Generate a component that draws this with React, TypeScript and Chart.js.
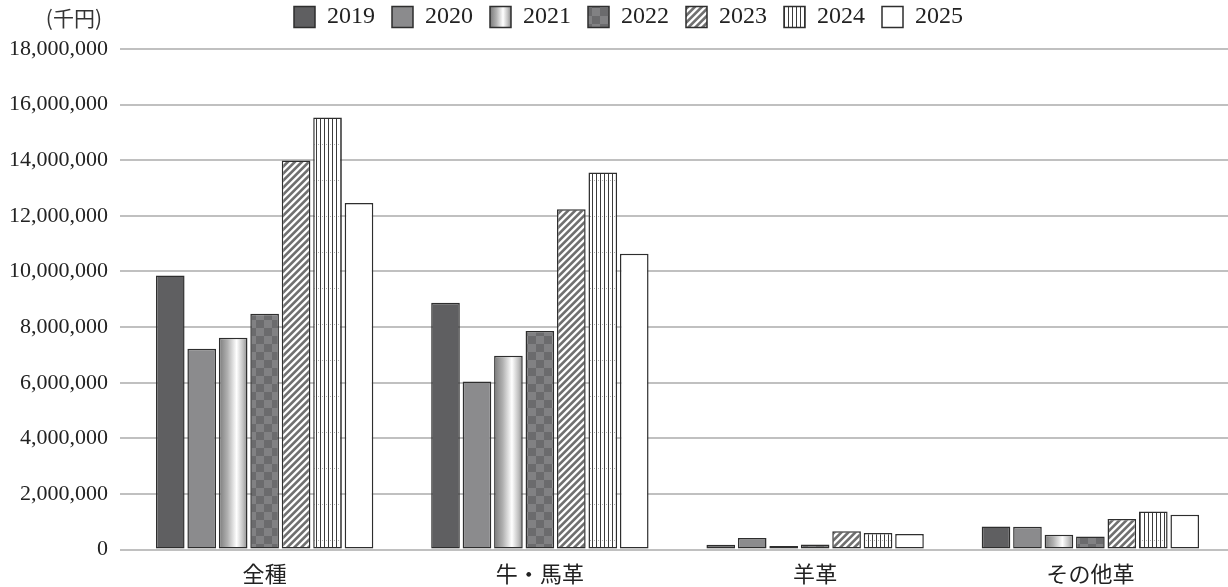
import React, { useEffect, useRef } from 'react';
import { Chart, registerables } from 'chart.js';

Chart.register(...registerables);

// ---- data ----
const categories = ['全種', '牛・馬革', '羊革', 'その他革'];
const years = ['2019', '2020', '2021', '2022', '2023', '2024', '2025'];
const v2019 = [9860000, 8880000, 170000, 830000];
const v2020 = [7220000, 6040000, 420000, 820000];
const v2021 = [7620000, 6970000, 130000, 530000];
const v2022 = [8480000, 7860000, 180000, 470000];
const v2023 = [13990000, 12240000, 660000, 1100000];
const v2024 = [15540000, 13560000, 600000, 1370000];
const v2025 = [12460000, 10640000, 560000, 1250000];
const seriesValues = [v2019, v2020, v2021, v2022, v2023, v2024, v2025];
const yMin = 0;
const yMax = 18000000;
const yStep = 2000000;
const unitLabel = '(千円)';

const BORDER = '#2e2e2e';
const LEGEND_DX = 16;
const LEGEND_DY = -10;

function makeTile(w: number, h: number, draw: (g: CanvasRenderingContext2D) => void) {
  const c = document.createElement('canvas');
  c.width = w;
  c.height = h;
  const g = c.getContext('2d')!;
  draw(g);
  return c;
}

function diagTile(P: number, frac: number) {
  return makeTile(P, P, (g) => {
    const img = g.createImageData(P, P);
    const S = 4;
    for (let y = 0; y < P; y++) {
      for (let x = 0; x < P; x++) {
        let cov = 0;
        for (let sy = 0; sy < S; sy++) {
          for (let sx = 0; sx < S; sx++) {
            const d = ((x + (sx + 0.5) / S + y + (sy + 0.5) / S) % P) / P;
            if (d < frac) cov++;
          }
        }
        const t = cov / (S * S);
        const gray = 112;
        const v = Math.round(255 * (1 - t) + gray * t);
        const i = (y * P + x) * 4;
        img.data[i] = v;
        img.data[i + 1] = v;
        img.data[i + 2] = v;
        img.data[i + 3] = 255;
      }
    }
    g.putImageData(img, 0, 0);
  });
}

function addGradStops(gr: CanvasGradient) {
  gr.addColorStop(0, '#7a7a7a');
  gr.addColorStop(0.3, '#b0b0b0');
  gr.addColorStop(0.62, '#ffffff');
  gr.addColorStop(0.85, '#c0c0c0');
  gr.addColorStop(1, '#8a8a8a');
}

export default function App() {
  const ref = useRef<HTMLCanvasElement>(null);

  useEffect(() => {
    document.body.style.margin = '0';
    const canvas = ref.current!;
    const ctx = canvas.getContext('2d')!;

    const checker = ctx.createPattern(
      makeTile(16, 16, (g) => {
        g.fillStyle = '#818183';
        g.fillRect(0, 0, 16, 16);
        g.fillStyle = '#6b6b6d';
        g.fillRect(0, 0, 8, 8);
        g.fillRect(8, 8, 8, 8);
      }),
      'repeat'
    )!;
    const diag = ctx.createPattern(diagTile(7, 0.52), 'repeat')!;
    const vert = ctx.createPattern(
      makeTile(4, 36, (g) => {
        g.fillStyle = '#ffffff';
        g.fillRect(0, 0, 4, 36);
        g.fillStyle = '#3c3c3c';
        g.fillRect(0, 0, 1, 36);
        g.fillStyle = '#b0b0b0';
        g.fillRect(2, 0, 1, 1);
      }),
      'repeat'
    )!;

    const fills: any[] = ['#5f5f61', '#8b8b8d', '#c8c8c8', checker, diag, vert, '#ffffff'];

    const datasets = years.map((y, i) => ({
      label: y,
      data: seriesValues[i],
      backgroundColor: fills[i],
      borderColor: BORDER,
      borderWidth: 1.5,
      borderSkipped: false as const,
      categoryPercentage: 0.8,
      barPercentage: 0.91,
    }));

    const custom = {
      id: 'custom',
      afterLayout(chart: any) {
        const lg = chart.legend;
        if (lg) {
          lg.left += LEGEND_DX;
          lg.right += LEGEND_DX;
          lg.top += LEGEND_DY;
          lg.bottom += LEGEND_DY;
        }
      },
      beforeDraw(chart: any) {
        const lg = chart.legend;
        if (lg && lg.legendItems && lg.legendHitBoxes && lg.legendHitBoxes[2]) {
          const hb = lg.legendHitBoxes[2];
          const bw = lg.options.labels.boxWidth;
          const gr = chart.ctx.createLinearGradient(hb.left, 0, hb.left + bw, 0);
          addGradStops(gr);
          lg.legendItems[2].fillStyle = gr;
        }
      },
      beforeDatasetsDraw(chart: any) {
        const meta = chart.getDatasetMeta(2);
        meta.data.forEach((el: any) => {
          const l = el.x - el.width / 2;
          const gr = chart.ctx.createLinearGradient(l, 0, l + el.width, 0);
          addGradStops(gr);
          el.options = Object.assign({}, el.options, { backgroundColor: gr });
        });
      },
      afterDraw(chart: any) {
        const c = chart.ctx;
        c.save();
        c.font = '21px "Noto Sans CJK JP", "Liberation Serif"';
        c.fillStyle = '#333333';
        c.textAlign = 'right';
        c.textBaseline = 'middle';
        c.fillText(unitLabel, chart.chartArea.left - 25, 18);
        c.restore();
      },
    };

    const chart = new Chart(canvas, {
      type: 'bar',
      data: { labels: categories, datasets },
      options: {
        animation: false,
        responsive: false,
        devicePixelRatio: 1,
        layout: { padding: { left: -3, right: 0, top: -2, bottom: -11 } },
        plugins: {
          legend: {
            position: 'top',
            align: 'center',
            labels: {
              boxWidth: 21,
              boxHeight: 21,
              padding: 17,
              color: '#222222',
              font: { family: '"Liberation Serif", serif', size: 24 },
            },
          },
          tooltip: { enabled: false },
          title: { display: false },
        },
        scales: {
          x: {
            grid: { display: false, drawTicks: false },
            border: { display: false },
            ticks: {
              color: '#222222',
              padding: 11,
              font: { family: '"Noto Sans CJK JP", sans-serif', size: 22 },
            },
          },
          y: {
            min: yMin,
            max: yMax,
            border: { display: false },
            grid: { color: '#c0c0c0', lineWidth: 2, drawTicks: true, tickLength: 7 },
            ticks: {
              stepSize: yStep,
              color: '#222222',
              padding: 12,
              font: { family: '"Liberation Serif", serif', size: 22 },
              callback: (v: any) => Number(v).toLocaleString('en-US'),
            },
          },
        },
      },
      plugins: [custom],
    });

    return () => chart.destroy();
  }, []);

  return (
    <div style={{ width: 1228, height: 587 }}>
      <canvas ref={ref} width={1228} height={587} style={{ display: 'block' }} />
    </div>
  );
}
